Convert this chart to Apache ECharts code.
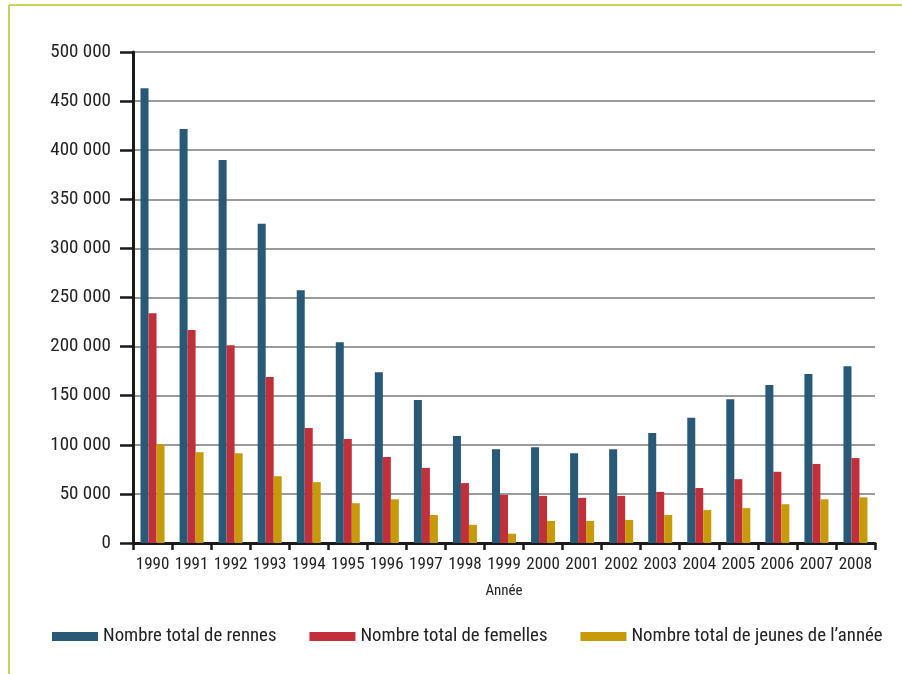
<!DOCTYPE html>
<html>
<head>
<meta charset="utf-8">
<script src="https://cdn.jsdelivr.net/npm/echarts@6/dist/echarts.min.js"></script>
<style>
html,body{margin:0;padding:0;background:#fff;}
#c{width:902px;height:674px;}
</style>
</head>
<body>
<div id="c"></div>
<script>
var years = ['1990','1991','1992','1993','1994','1995','1996','1997','1998','1999','2000','2001','2002','2003','2004','2005','2006','2007','2008'];
var rennes = [463000,421500,390000,325000,257500,204500,174000,145500,109000,95500,97500,91500,95500,112000,127500,146500,161000,172000,180000];
var femelles = [234000,217000,201500,169000,117000,106000,87500,76500,61000,49000,48000,46000,48000,52000,56000,65000,72500,80500,86500];
var jeunes = [100500,92500,91500,68000,62000,40500,44500,28500,18500,9500,22500,22500,23500,28500,33500,35500,39500,44500,46500];
var seriesNames = ['Nombre total de rennes','Nombre total de femelles','Nombre total de jeunes de l\u2019ann\u00e9e'];
var colors = ['#285a78','#c1303a','#c69a08'];
var FONT = '"Roboto Condensed",sans-serif';

var chart = echarts.init(document.getElementById('c'), null, {renderer:'canvas'});
function fmt(v){ return String(v).replace(/\B(?=(\d{3})+(?!\d))/g,' '); }
var data = [rennes, femelles, jeunes];
chart.setOption({
  animation:false,
  color: colors,
  textStyle:{fontFamily:FONT},
  graphic:[
    {type:'line', shape:{x1:9,y1:5,x2:902,y2:5}, style:{stroke:'#c9d35a',lineWidth:2}},
    {type:'line', shape:{x1:9,y1:5,x2:9,y2:674}, style:{stroke:'#c9d35a',lineWidth:2}}
  ],
  grid:{left:133,right:27,top:52,bottom:131,containLabel:false},
  legend:{
    top:622, left:47,
    itemWidth:46, itemHeight:9, itemGap:33,
    icon:'rect',
    textStyle:{fontFamily:FONT,fontSize:18.8,color:'#222'},
    data: seriesNames
  },
  xAxis:{
    type:'category',
    data: years,
    name:'Ann\u00e9e',
    nameLocation:'middle',
    nameGap:41,
    nameTextStyle:{fontFamily:FONT,fontSize:15,color:'#222'},
    axisLine:{lineStyle:{color:'#1a1a1a',width:3}},
    axisTick:{show:true,length:7,lineStyle:{color:'#1a1a1a',width:2.5}},
    axisLabel:{fontFamily:FONT,fontSize:17,color:'#222',margin:13,interval:0}
  },
  yAxis:{
    type:'value',
    min:0,max:500000,interval:50000,
    axisLine:{show:true,lineStyle:{color:'#1a1a1a',width:3}},
    axisTick:{show:true,length:13,lineStyle:{color:'#1a1a1a',width:2.5}},
    axisLabel:{fontFamily:FONT,fontSize:19,color:'#222',margin:22,formatter:fmt},
    splitLine:{show:true,lineStyle:{color:'#7a7a7a',width:1.5}}
  },
  series: seriesNames.map(function(n,i){
    return {name:n,type:'bar',data:data[i],barWidth:8,barGap:'0%',itemStyle:{color:colors[i]}};
  })
});
</script>
</body>
</html>
